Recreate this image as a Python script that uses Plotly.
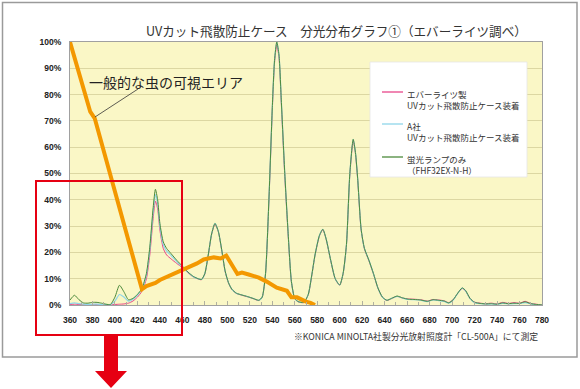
import plotly.graph_objects as go

# ---------------- data ----------------
wavelength = [360, 364, 368, 372, 376, 380, 384, 388, 392, 396,
              400, 404, 408, 412, 416, 420, 424, 428, 431, 434,
              436, 438, 440, 443, 446, 450, 455, 460, 465, 470,
              474, 477, 480, 483, 486, 489, 492, 495, 498, 501,
              504, 508, 513, 518, 523, 528, 531, 534, 537, 540,
              542, 544, 546, 548, 551, 554, 557, 560, 563, 568,
              572, 575, 578, 582, 585, 588, 592, 596, 600, 603,
              606, 609, 612, 614, 616, 619, 622, 626, 630, 634,
              638, 642, 646, 651, 656, 661, 666, 672, 678, 683,
              688, 693, 697, 701, 705, 709, 712, 716, 720, 725,
              730, 735, 740, 745, 750, 755, 760, 765, 770, 775, 780]

lamp_only = [1.9, 3.7, 2.0, 0.8, 0.7, 1.0, 1.0, 0.7, 0.3, 0.2,
             3.0, 7.5, 5.0, 2.0, 2.5, 4.0, 6.3, 12.0, 22.0, 37.0,
             44.0, 40.0, 31.0, 24.0, 21.5, 19.5, 17.0, 14.8, 12.5, 10.8,
             10.0, 9.7, 12.0, 19.0, 27.0, 31.0, 28.0, 21.0, 13.0, 8.5,
             6.0, 4.5, 3.8, 3.2, 2.5, 1.8, 3.0, 12.0, 40.0, 75.0,
             93.0, 100.0, 95.0, 78.0, 51.0, 28.0, 9.0, 2.5, 1.3, 1.0,
             4.0, 11.0, 19.0, 26.5, 28.8, 25.0, 17.0, 10.0, 7.6, 12.0,
             23.0, 50.0, 63.0, 58.0, 48.0, 29.0, 21.5, 17.0, 12.0, 6.5,
             3.0, 1.8, 2.5, 3.4, 2.7, 2.2, 2.1, 1.9, 1.4, 2.0,
             1.8, 1.5, 0.8, 2.0, 4.5, 6.5, 5.5, 2.5, 1.0, 0.6,
             0.4, 0.5, 0.3, 0.8, 0.5, 0.7, 0.6, 1.2, 0.5, 0.2, 0.0]

everlights_case = [0.2, 0.3, 0.2, 0.2, 0.1, 0.2, 0.2, 0.1, 0.1, 0.1,
                   0.2, 0.3, 0.4, 0.7, 1.5, 3.0, 5.2, 10.0, 19.0, 33.0,
                   39.5, 36.5, 28.5, 21.5, 19.0, 17.5, 15.8, 14.2, 12.2, 10.6,
                   9.9, 9.6, 11.8, 18.8, 26.8, 30.8, 27.8, 20.8, 12.8, 8.4,
                   5.9, 4.4, 3.7, 3.1, 2.4, 1.7, 2.9, 11.8, 39.5, 74.0,
                   92.0, 99.0, 94.0, 77.0, 50.0, 27.5, 8.8, 2.4, 1.2, 0.9,
                   3.9, 10.8, 18.8, 26.3, 28.6, 24.8, 16.8, 9.9, 7.5, 11.8,
                   22.8, 49.5, 62.5, 57.5, 47.5, 28.8, 21.3, 16.8, 11.8, 6.4,
                   2.9, 1.7, 2.4, 3.3, 2.6, 2.3, 2.2, 2.0, 1.5, 2.1,
                   1.9, 1.6, 0.9, 2.1, 4.4, 6.3, 5.3, 2.4, 1.1, 0.7,
                   0.5, 0.7, 0.4, 1.0, 0.6, 0.9, 0.7, 1.4, 0.6, 0.3, 0.0]

company_a_case = [0.5, 0.8, 0.5, 0.3, 0.2, 0.3, 0.3, 0.2, 0.2, 0.2,
                  1.5, 4.0, 3.0, 1.5, 2.2, 3.8, 6.0, 11.5, 21.0, 35.5,
                  42.0, 38.5, 30.0, 23.0, 20.5, 18.8, 16.5, 14.5, 12.4, 10.7,
                  10.0, 9.7, 12.0, 19.0, 27.0, 31.0, 28.0, 21.0, 13.0, 8.5,
                  6.0, 4.5, 3.8, 3.2, 2.5, 1.8, 3.0, 12.0, 40.0, 75.0,
                  93.0, 100.0, 95.0, 78.0, 51.0, 28.0, 9.0, 2.5, 1.3, 1.0,
                  4.0, 11.0, 19.0, 26.5, 28.8, 25.0, 17.0, 10.0, 7.6, 12.0,
                  23.0, 50.0, 63.0, 58.0, 48.0, 29.0, 21.5, 17.0, 12.0, 6.5,
                  3.0, 1.8, 2.5, 3.3, 2.6, 2.1, 2.0, 1.8, 1.3, 1.9,
                  1.7, 1.4, 0.7, 1.9, 4.4, 6.4, 5.4, 2.4, 0.9, 0.5,
                  0.3, 0.4, 0.2, 0.6, 0.4, 0.5, 0.5, 0.9, 0.4, 0.1, 0.0]

insect_nm = [360, 378, 382, 424, 428, 432, 436, 440, 445, 450,
             455, 461, 467, 473, 479, 484, 488, 494, 499, 509,
             513, 519, 528, 535, 544, 553, 557, 562, 566, 570, 574, 578]
insect_pct = [100.0, 73.5, 71.0, 6.0, 7.2, 7.8, 8.4, 9.5, 10.4, 11.4,
              12.2, 13.3, 14.6, 15.8, 17.3, 17.8, 18.1, 17.7, 18.8, 11.8,
              12.3, 11.6, 10.4, 8.9, 6.6, 5.4, 2.9, 2.9, 2.0, 1.3, 0.8, 0.0]

x_ticks = [360, 380, 400, 420, 440, 460, 480, 500, 520, 540, 560,
           580, 600, 620, 640, 660, 680, 700, 720, 740, 760, 780]
y_ticks = [0, 10, 20, 30, 40, 50, 60, 70, 80, 90, 100]
y_tick_text = ["0%", "10%", "20%", "30%", "40%", "50%", "60%", "70%", "80%", "90%", "100%"]

series_names = ["エバーライツ製<br>UVカット飛散防止ケース装着",
                "A社<br>UVカット飛散防止ケース装着",
                "蛍光ランプのみ<br>（FHF32EX-N-H）"]
series_colors = ["#e8468a", "#8fd6ea", "#4d8a3c"]

# ---------------- geometry helpers (pixel -> paper) ----------------
W, H = 580, 389
ML, MR, MT, MB = 70, 38, 42, 84
PW, PH = W - ML - MR, H - MT - MB


def px(x):
    return (x - ML) / PW


def py(y):
    return (H - MB - y) / PH


JP = "Noto Sans CJK JP"
NUM = "Liberation Sans"

fig = go.Figure()

for vals, name, color, w in [(everlights_case, series_names[0], series_colors[0], 1.0),
                              (company_a_case, series_names[1], series_colors[1], 1.2),
                              (lamp_only, series_names[2], series_colors[2], 1.0)]:
    fig.add_trace(go.Scatter(x=wavelength, y=vals, mode="lines", name=name,
                             line=dict(color=color, width=w, shape="spline", smoothing=0.6),
                             showlegend=False, hoverinfo="skip"))

fig.add_trace(go.Scatter(x=insect_nm, y=insect_pct, mode="lines", name="一般的な虫の可視エリア",
                         line=dict(color="#f39800", width=4), showlegend=False, hoverinfo="skip"))

shapes = []
# outer frame
shapes.append(dict(type="rect", xref="paper", yref="paper", x0=px(2.5), x1=px(577), y0=py(357), y1=py(2.5),
                   line=dict(color="#9a9a9a", width=1.5), fillcolor="rgba(0,0,0,0)", layer="below"))
# legend box
shapes.append(dict(type="rect", xref="paper", yref="paper", x0=px(370), x1=px(527), y0=py(177), y1=py(62),
                   line=dict(color="#e6e6e6", width=0.8), fillcolor="white", layer="above"))
legend_y = [92, 124, 157]
for yy, col in zip(legend_y, series_colors):
    shapes.append(dict(type="line", xref="paper", yref="paper", x0=px(382), x1=px(403), y0=py(yy), y1=py(yy),
                       line=dict(color=col, width=1.3), layer="above"))
# leader line for annotation
shapes.append(dict(type="line", xref="paper", yref="paper", x0=px(138), x1=px(95), y0=py(89), y1=py(117),
                   line=dict(color="#333333", width=0.8), layer="above"))
# red highlight rectangle
shapes.append(dict(type="rect", xref="paper", yref="paper", x0=px(36), x1=px(182), y0=py(335), y1=py(181),
                   line=dict(color="#e60012", width=2), fillcolor="rgba(0,0,0,0)", layer="above"))
# red arrow
ax = 111
path = "M {a},{b} L {c},{b} L {c},{d} L {e},{d} L {f},{g} L {h},{d} L {i},{d} Z".format(
    a=px(ax - 7), b=py(335), c=px(ax + 7), d=py(371), e=px(ax + 16), f=px(ax), g=py(388),
    h=px(ax - 16), i=px(ax - 7))
shapes.append(dict(type="path", xref="paper", yref="paper", path=path,
                   fillcolor="#e60012", line=dict(color="#e60012", width=0), layer="above"))

annotations = []
annotations.append(dict(text="UVカット飛散防止ケース　分光分布グラフ①（エバーライツ調べ）",
                        xref="paper", yref="paper", x=px(336), y=py(31), xanchor="center", yanchor="middle",
                        showarrow=False, font=dict(family=JP, size=12.6, color="#333333")))
annotations.append(dict(text="一般的な虫の可視エリア", xref="paper", yref="paper", x=px(87), y=py(82),
                        xanchor="left", yanchor="middle", showarrow=False,
                        font=dict(family=JP, size=14, color="#222222")))
annotations.append(dict(text="※KONICA MINOLTA社製分光放射照度計「CL-500A」にて測定", xref="paper", yref="paper",
                        x=px(540), y=py(336), xanchor="right", yanchor="middle", showarrow=False,
                        font=dict(family=JP, size=8.8, color="#333333")))
for yy, name in zip(legend_y, series_names):
    annotations.append(dict(text=name, xref="paper", yref="paper", x=px(405), y=py(yy - 6),
                            xanchor="left", yanchor="top", align="left", showarrow=False,
                            font=dict(family=JP, size=8.5, color="#333333")))

fig.update_layout(
    width=W, height=H,
    margin=dict(l=ML, r=MR, t=MT, b=MB, pad=0),
    paper_bgcolor="white", plot_bgcolor="#faf7c6",
    shapes=shapes, annotations=annotations,
    showlegend=False,
    xaxis=dict(range=[360, 780], tickvals=x_ticks, ticktext=[str(v) for v in x_ticks],
               showgrid=False, zeroline=False, showline=True, linecolor="#a0a0a0", linewidth=1,
               mirror=True, ticks="inside", ticklen=4, tickcolor="#b0b0a0",
               minor=dict(dtick=10, ticks="inside", ticklen=3, tickcolor="#b0b0a0"),
               ticklabelstandoff=7,
               tickfont=dict(family=NUM, size=8.5, color="#222222", weight="bold")),
    yaxis=dict(range=[0, 100], tickvals=y_ticks, ticktext=y_tick_text,
               showgrid=True, gridcolor="#dcd7a2", gridwidth=1, zeroline=False,
               showline=True, linecolor="#a0a0a0", linewidth=1, mirror=True,
               ticks="", ticklabelstandoff=6,
               tickfont=dict(family=NUM, size=8.5, color="#222222", weight="bold")),
)

fig.write_html("out.html", config={"displayModeBar": False},
               post_script="document.body.style.margin='0';document.body.style.overflow='hidden';")
